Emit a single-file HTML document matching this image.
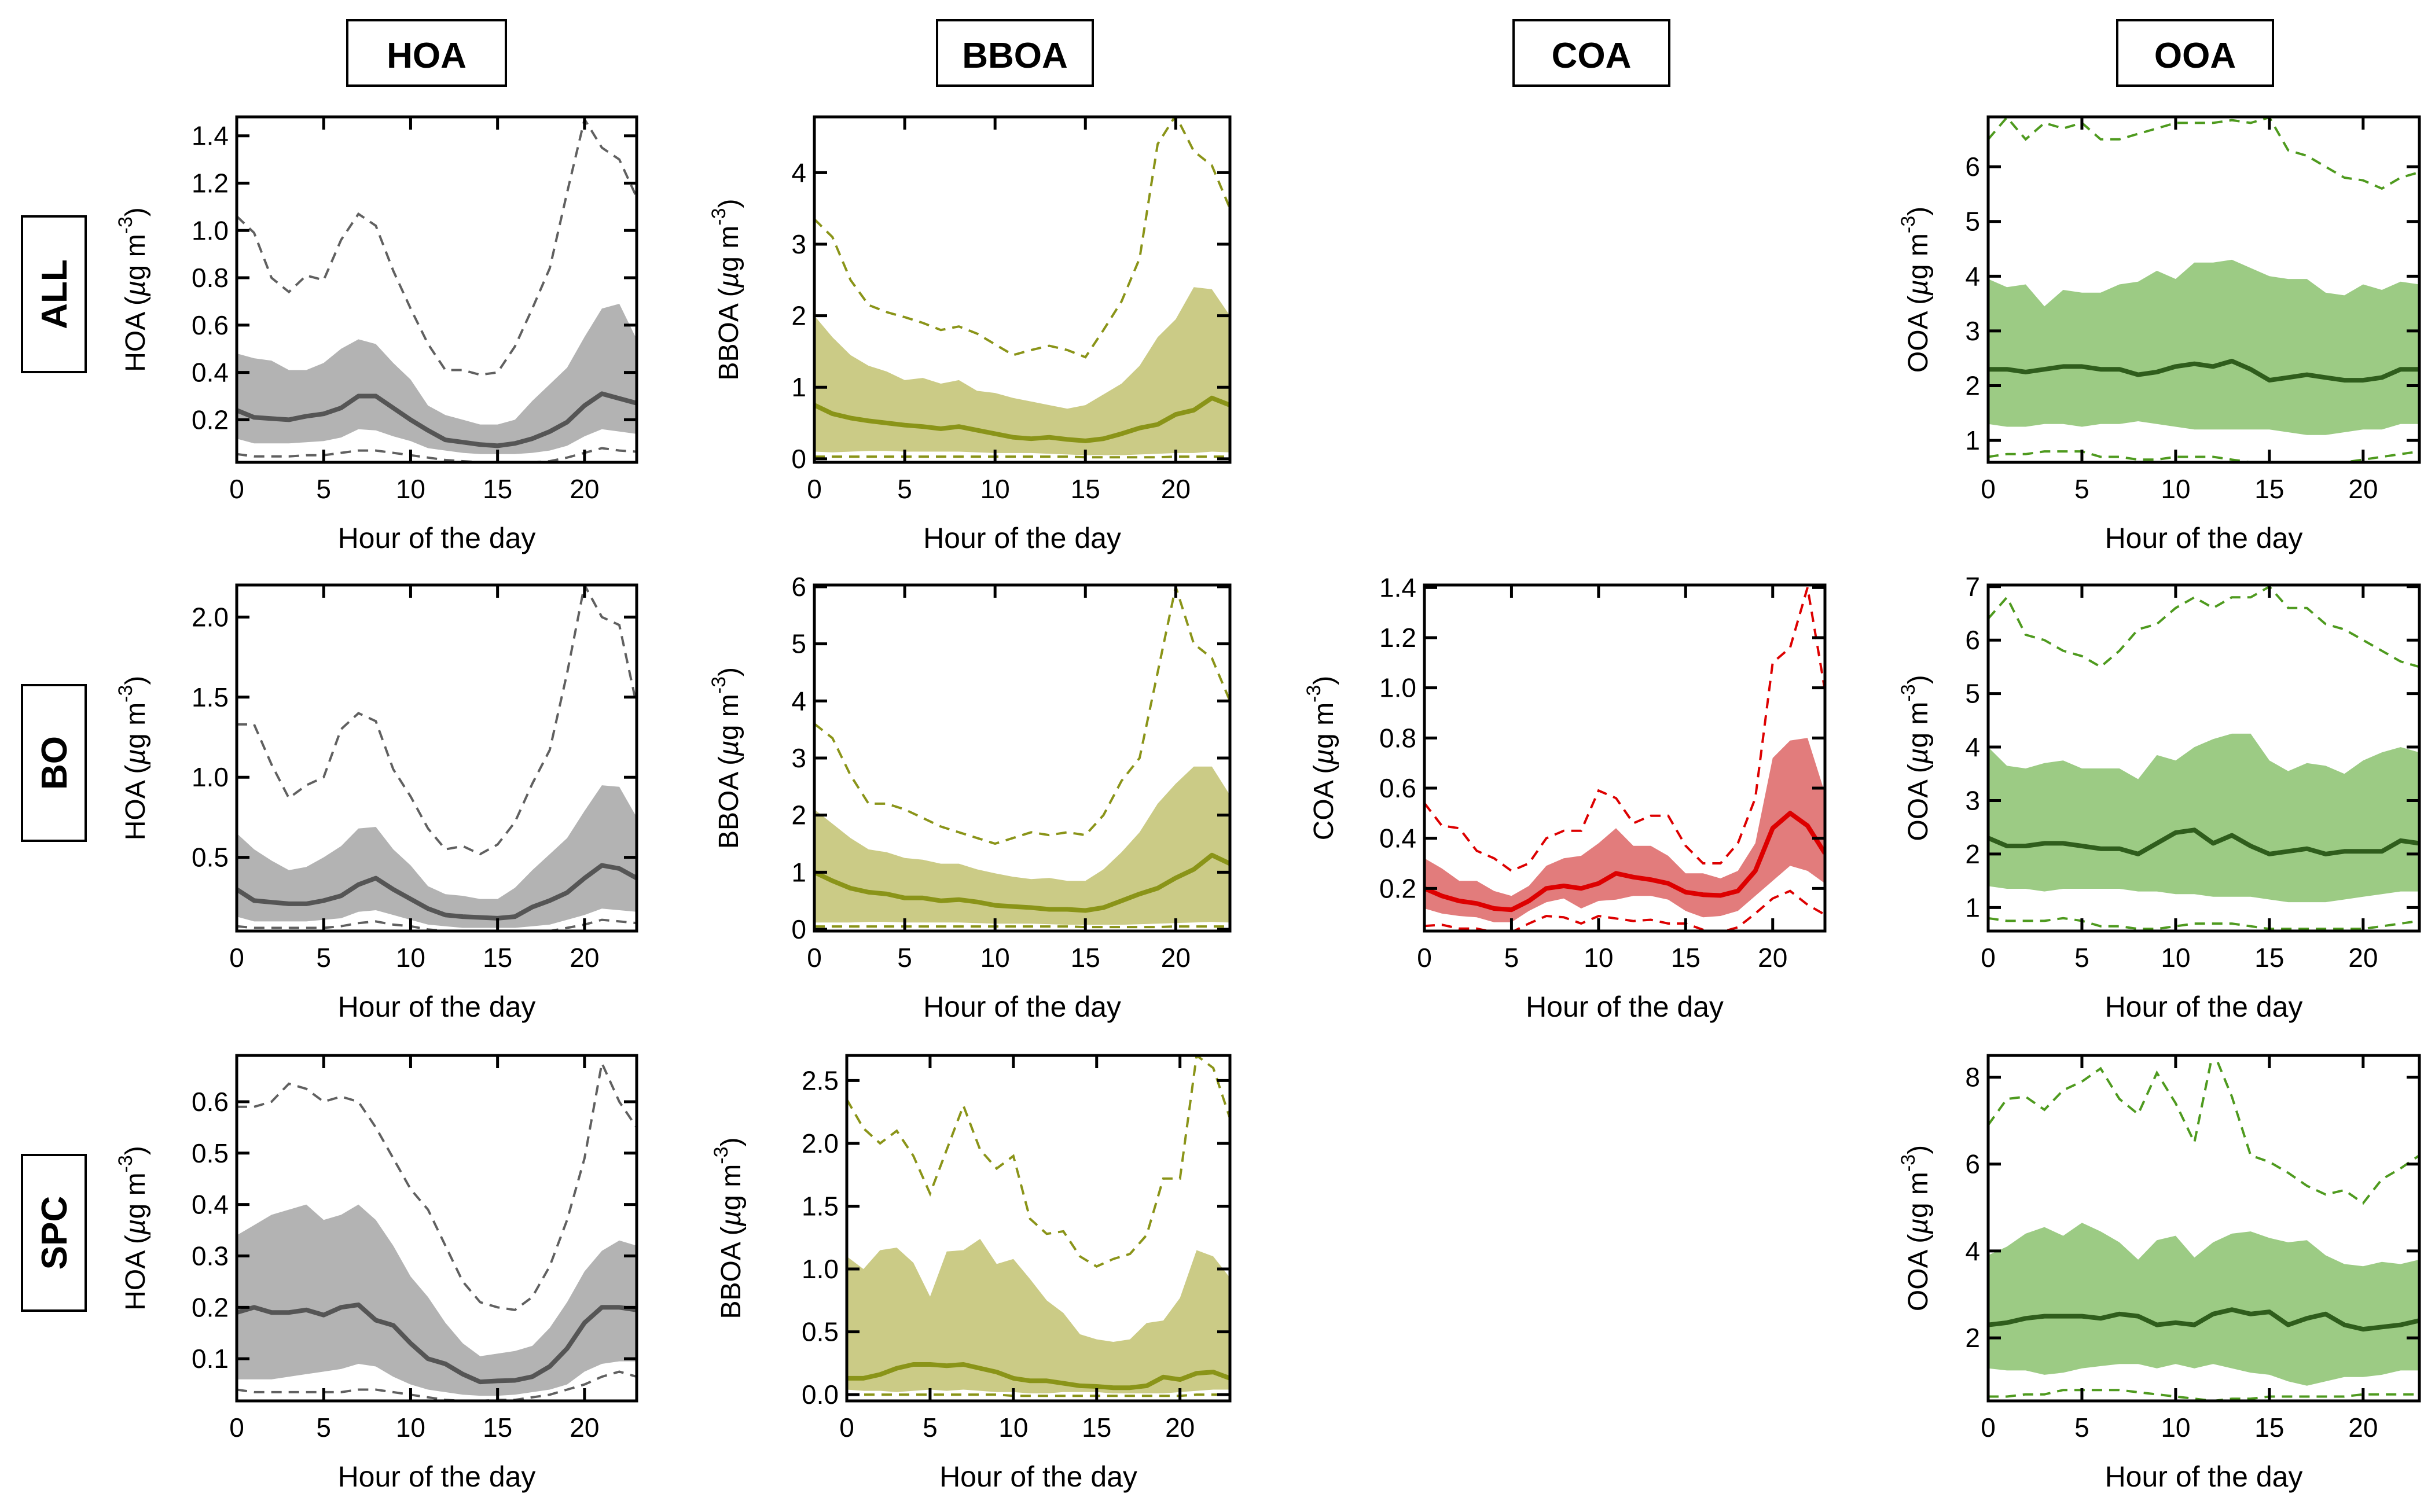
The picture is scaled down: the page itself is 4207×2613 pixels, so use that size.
<!DOCTYPE html>
<html><head><meta charset="utf-8"><style>
html,body{margin:0;padding:0;background:#fff;}
svg{display:block;font-family:"Liberation Sans",sans-serif;}
</style></head><body>
<svg id="fig" width="4207" height="2613" viewBox="0 0 4207 2613" xmlns="http://www.w3.org/2000/svg"></svg>
<script>
const hours = [0,1,2,3,4,5,6,7,8,9,10,11,12,13,14,15,16,17,18,19,20,21,22,23];
const xTicks = [0,5,10,15,20];

const hoaAllMean=[0.24,0.21,0.205,0.20,0.215,0.225,0.25,0.30,0.30,0.25,0.20,0.155,0.115,0.105,0.095,0.09,0.10,0.12,0.15,0.19,0.26,0.31,0.29,0.27];
const hoaAllHi=[0.48,0.46,0.45,0.41,0.41,0.44,0.50,0.54,0.52,0.44,0.37,0.26,0.22,0.20,0.18,0.18,0.20,0.28,0.35,0.42,0.55,0.67,0.69,0.54];
const hoaAllLo=[0.12,0.10,0.10,0.10,0.105,0.11,0.125,0.16,0.155,0.13,0.11,0.08,0.07,0.06,0.055,0.055,0.055,0.06,0.07,0.09,0.13,0.16,0.15,0.14];
const hoaAllDHi=[1.06,0.99,0.80,0.74,0.81,0.79,0.96,1.07,1.02,0.83,0.67,0.52,0.41,0.41,0.39,0.40,0.51,0.67,0.84,1.16,1.47,1.35,1.30,1.14];
const hoaAllDLo=[0.055,0.045,0.045,0.045,0.05,0.05,0.06,0.07,0.07,0.06,0.05,0.04,0.03,0.025,0.02,0.02,0.02,0.02,0.025,0.04,0.06,0.08,0.07,0.065];

const bbAllMean=[0.75,0.63,0.57,0.53,0.50,0.47,0.45,0.42,0.45,0.40,0.35,0.30,0.28,0.30,0.27,0.25,0.28,0.35,0.43,0.48,0.62,0.68,0.85,0.75];
const bbAllHi=[2.0,1.7,1.45,1.3,1.22,1.1,1.13,1.05,1.1,0.95,0.92,0.85,0.8,0.75,0.7,0.75,0.9,1.05,1.3,1.7,1.95,2.4,2.37,2.0];
const bbAllLo=[0.1,0.09,0.1,0.11,0.11,0.1,0.1,0.1,0.1,0.09,0.08,0.08,0.08,0.07,0.06,0.05,0.05,0.05,0.06,0.07,0.08,0.08,0.1,0.09];
const bbAllDHi=[3.35,3.1,2.5,2.15,2.05,1.98,1.9,1.8,1.85,1.75,1.6,1.45,1.52,1.58,1.52,1.42,1.8,2.2,2.8,4.4,4.8,4.3,4.1,3.5];
const bbAllDLo=[0.03,0.03,0.03,0.03,0.03,0.03,0.03,0.03,0.03,0.03,0.03,0.03,0.03,0.03,0.03,0.02,0.02,0.02,0.02,0.02,0.03,0.03,0.03,0.03];

const ooAllMean=[2.3,2.3,2.25,2.3,2.35,2.35,2.3,2.3,2.2,2.25,2.35,2.4,2.35,2.45,2.3,2.1,2.15,2.2,2.15,2.1,2.1,2.15,2.3,2.3];
const ooAllHi=[3.95,3.8,3.85,3.45,3.75,3.7,3.7,3.85,3.9,4.1,3.95,4.25,4.25,4.3,4.15,4.0,3.95,3.95,3.7,3.65,3.85,3.75,3.9,3.85];
const ooAllLo=[1.3,1.25,1.25,1.3,1.3,1.25,1.3,1.3,1.35,1.3,1.25,1.2,1.2,1.2,1.2,1.2,1.15,1.1,1.1,1.15,1.2,1.2,1.3,1.3];
const ooAllDHi=[6.5,6.9,6.5,6.8,6.7,6.8,6.5,6.5,6.6,6.7,6.8,6.8,6.8,6.85,6.8,6.9,6.3,6.2,6.0,5.8,5.75,5.6,5.8,5.9];
const ooAllDLo=[0.7,0.75,0.75,0.8,0.8,0.8,0.7,0.7,0.65,0.65,0.7,0.7,0.7,0.65,0.6,0.6,0.6,0.6,0.6,0.6,0.65,0.7,0.75,0.8];

const hoaBoMean=[0.30,0.23,0.22,0.21,0.21,0.23,0.26,0.33,0.37,0.30,0.24,0.18,0.14,0.13,0.125,0.12,0.13,0.19,0.23,0.28,0.37,0.45,0.43,0.37];
const hoaBoHi=[0.65,0.55,0.48,0.42,0.44,0.50,0.57,0.68,0.69,0.55,0.45,0.32,0.27,0.26,0.24,0.24,0.31,0.42,0.52,0.62,0.79,0.95,0.94,0.75];
const hoaBoLo=[0.13,0.10,0.10,0.10,0.10,0.11,0.12,0.16,0.17,0.14,0.11,0.08,0.07,0.06,0.06,0.06,0.06,0.07,0.08,0.11,0.14,0.18,0.17,0.16];
const hoaBoDHi=[1.33,1.33,1.08,0.87,0.95,1.00,1.30,1.40,1.35,1.05,0.88,0.68,0.55,0.57,0.52,0.58,0.72,0.96,1.17,1.65,2.2,2.0,1.95,1.45];
const hoaBoDLo=[0.07,0.06,0.06,0.06,0.06,0.06,0.07,0.09,0.10,0.08,0.07,0.05,0.04,0.04,0.04,0.035,0.04,0.04,0.04,0.06,0.08,0.11,0.10,0.09];

const bbBoMean=[1.0,0.85,0.72,0.65,0.62,0.55,0.55,0.50,0.52,0.48,0.42,0.40,0.38,0.35,0.35,0.33,0.38,0.50,0.62,0.72,0.90,1.05,1.3,1.15];
const bbBoHi=[2.1,1.85,1.6,1.4,1.35,1.25,1.22,1.15,1.15,1.05,0.98,0.92,0.88,0.90,0.85,0.85,1.05,1.35,1.7,2.2,2.55,2.85,2.85,2.35];
const bbBoLo=[0.12,0.12,0.12,0.13,0.13,0.12,0.12,0.12,0.12,0.11,0.1,0.1,0.1,0.09,0.08,0.08,0.08,0.08,0.09,0.1,0.11,0.12,0.13,0.12];
const bbBoDHi=[3.6,3.35,2.7,2.2,2.2,2.1,1.95,1.8,1.7,1.6,1.5,1.6,1.7,1.65,1.7,1.65,2.0,2.6,3.0,4.5,6.0,5.0,4.75,4.0];
const bbBoDLo=[0.05,0.05,0.05,0.05,0.05,0.05,0.05,0.05,0.05,0.05,0.05,0.05,0.05,0.05,0.05,0.04,0.04,0.04,0.04,0.04,0.05,0.05,0.05,0.05];

const coaBoMean=[0.20,0.17,0.15,0.14,0.12,0.115,0.15,0.20,0.21,0.20,0.22,0.26,0.245,0.235,0.22,0.185,0.175,0.172,0.19,0.27,0.44,0.50,0.45,0.34];
const coaBoHi=[0.32,0.28,0.23,0.23,0.19,0.17,0.21,0.29,0.32,0.33,0.38,0.44,0.37,0.37,0.33,0.26,0.26,0.24,0.27,0.38,0.72,0.79,0.80,0.58];
const coaBoLo=[0.12,0.10,0.09,0.085,0.065,0.065,0.11,0.145,0.16,0.12,0.15,0.155,0.17,0.17,0.155,0.11,0.085,0.09,0.11,0.17,0.23,0.29,0.27,0.22];
const coaBoDHi=[0.54,0.45,0.44,0.35,0.32,0.27,0.30,0.40,0.43,0.43,0.59,0.56,0.46,0.49,0.49,0.37,0.30,0.30,0.38,0.56,1.1,1.16,1.40,0.99];
const coaBoDLo=[0.05,0.055,0.04,0.04,0.025,0.025,0.06,0.09,0.085,0.06,0.09,0.08,0.07,0.075,0.06,0.06,0.035,0.025,0.045,0.10,0.16,0.19,0.135,0.095];

const ooBoMean=[2.3,2.15,2.15,2.2,2.2,2.15,2.1,2.1,2.0,2.2,2.4,2.45,2.2,2.35,2.15,2.0,2.05,2.1,2.0,2.05,2.05,2.05,2.25,2.2];
const ooBoHi=[4.0,3.65,3.6,3.7,3.75,3.6,3.6,3.6,3.4,3.85,3.75,4.0,4.15,4.25,4.25,3.75,3.55,3.7,3.65,3.5,3.75,3.9,4.0,3.9];
const ooBoLo=[1.4,1.35,1.35,1.3,1.35,1.35,1.35,1.35,1.3,1.3,1.25,1.25,1.2,1.2,1.2,1.15,1.1,1.1,1.1,1.15,1.2,1.25,1.3,1.3];
const ooBoDHi=[6.4,6.8,6.1,6.0,5.8,5.7,5.5,5.8,6.2,6.3,6.6,6.8,6.6,6.8,6.8,7.0,6.6,6.6,6.3,6.2,6.0,5.8,5.6,5.5];
const ooBoDLo=[0.8,0.75,0.75,0.75,0.8,0.75,0.65,0.65,0.6,0.6,0.65,0.7,0.7,0.7,0.65,0.6,0.6,0.6,0.6,0.6,0.6,0.65,0.7,0.75];

const hoaSpMean=[0.19,0.20,0.19,0.19,0.195,0.185,0.20,0.205,0.175,0.165,0.13,0.10,0.09,0.07,0.055,0.057,0.058,0.065,0.085,0.12,0.17,0.20,0.20,0.195];
const hoaSpHi=[0.34,0.36,0.38,0.39,0.40,0.37,0.38,0.40,0.37,0.32,0.26,0.22,0.17,0.13,0.105,0.11,0.115,0.125,0.16,0.21,0.27,0.31,0.33,0.32];
const hoaSpLo=[0.06,0.06,0.06,0.065,0.07,0.075,0.08,0.09,0.085,0.065,0.05,0.04,0.035,0.03,0.028,0.028,0.03,0.035,0.04,0.05,0.075,0.09,0.095,0.095];
const hoaSpDHi=[0.59,0.59,0.60,0.635,0.625,0.60,0.61,0.60,0.55,0.49,0.43,0.39,0.32,0.25,0.21,0.20,0.195,0.22,0.28,0.37,0.49,0.675,0.60,0.55];
const hoaSpDLo=[0.04,0.035,0.035,0.035,0.035,0.035,0.035,0.04,0.04,0.035,0.03,0.025,0.02,0.018,0.018,0.02,0.02,0.025,0.03,0.04,0.05,0.065,0.075,0.065];

const bbSpMean=[0.13,0.13,0.16,0.21,0.24,0.24,0.23,0.24,0.21,0.18,0.13,0.11,0.11,0.09,0.07,0.065,0.055,0.055,0.07,0.14,0.12,0.17,0.18,0.13];
const bbSpHi=[1.1,1.0,1.15,1.17,1.05,0.78,1.14,1.15,1.24,1.04,1.08,0.92,0.75,0.65,0.48,0.44,0.42,0.44,0.57,0.59,0.77,1.15,1.10,0.93];
const bbSpLo=[0.04,0.03,0.03,0.02,0.03,0.04,0.03,0.04,0.03,0.02,0.02,0.01,0.01,0.02,0.02,0.02,0.01,0.01,0.01,0.01,0.02,0.03,0.04,0.04];
const bbSpDHi=[2.35,2.12,2.0,2.1,1.9,1.6,1.95,2.3,1.95,1.8,1.9,1.4,1.28,1.3,1.1,1.02,1.08,1.12,1.27,1.72,1.72,2.7,2.6,2.2];
const bbSpDLo=[0,0,0,0,0,0,0,0,0,0,-0.01,-0.01,-0.01,-0.01,-0.01,-0.01,-0.01,-0.01,-0.01,-0.01,-0.01,0,0,0];

const ooSpMean=[2.3,2.35,2.45,2.5,2.5,2.5,2.45,2.55,2.5,2.3,2.35,2.3,2.55,2.65,2.55,2.6,2.3,2.45,2.55,2.3,2.2,2.25,2.3,2.4];
const ooSpHi=[3.9,4.1,4.4,4.55,4.35,4.65,4.45,4.2,3.8,4.25,4.35,3.85,4.2,4.4,4.45,4.3,4.2,4.25,3.9,3.7,3.65,3.75,3.7,3.8];
const ooSpLo=[1.3,1.25,1.25,1.15,1.2,1.3,1.35,1.4,1.4,1.3,1.4,1.3,1.4,1.3,1.2,1.15,1.0,0.9,1.0,1.1,1.1,1.15,1.25,1.25];
const ooSpDHi=[6.9,7.5,7.55,7.25,7.7,7.9,8.2,7.5,7.15,8.1,7.4,6.5,8.6,7.55,6.2,6.05,5.8,5.5,5.3,5.4,5.1,5.65,5.9,6.2];
const ooSpDLo=[0.65,0.65,0.7,0.7,0.8,0.8,0.8,0.8,0.75,0.7,0.65,0.6,0.55,0.6,0.6,0.65,0.65,0.65,0.65,0.65,0.7,0.7,0.7,0.7];

const hoaAllTicks=[0.2,0.4,0.6,0.8,1.0,1.2,1.4];
const bbAllTicks=[0,1,2,3,4];
const ooAllTicks=[1,2,3,4,5,6];
const hoaBoTicks=[0.5,1.0,1.5,2.0];
const bbBoTicks=[0,1,2,3,4,5,6];
const coaBoTicks=[0.2,0.4,0.6,0.8,1.0,1.2,1.4];
const ooBoTicks=[1,2,3,4,5,6,7];
const hoaSpTicks=[0.1,0.2,0.3,0.4,0.5,0.6];
const bbSpTicks=[0.0,0.5,1.0,1.5,2.0,2.5];
const ooSpTicks=[2,4,6,8];

const NS="http://www.w3.org/2000/svg";
const svg=document.getElementById('fig');
function mk(tag,attrs,parent){const e=document.createElementNS(NS,tag);for(const k in attrs)e.setAttribute(k,attrs[k]);(parent||svg).appendChild(e);return e;}

const COL={
 hoa:{band:'#b3b3b3',line:'#555555',dash:'#606060'},
 bb:{band:'#cbcb86',line:'#8a9418',dash:'#8a9418'},
 coa:{band:'#e27c7c',line:'#dd0000',dash:'#dd0000'},
 oo:{band:'#9ccb84',line:'#2f5d1c',dash:'#4e9a1e'}
};
const rows=[{t:202,b:799},{t:1011,b:1609},{t:1824,b:2421}];
const panels=[
 {id:'hoa-all',sp:'hoa',label:'HOA',r:0,L:409,R:1100,d:[0.02,1.48],ticks:hoaAllTicks,dec:1,m:hoaAllMean,hi:hoaAllHi,lo:hoaAllLo,dh:hoaAllDHi,dl:hoaAllDLo,yl:234},
 {id:'bboa-all',sp:'bb',label:'BBOA',r:0,L:1407,R:2125,d:[-0.05,4.78],ticks:bbAllTicks,dec:0,m:bbAllMean,hi:bbAllHi,lo:bbAllLo,dh:bbAllDHi,dl:bbAllDLo,yl:1259},
 {id:'ooa-all',sp:'oo',label:'OOA',r:0,L:3435,R:4180,d:[0.6,6.91],ticks:ooAllTicks,dec:0,m:ooAllMean,hi:ooAllHi,lo:ooAllLo,dh:ooAllDHi,dl:ooAllDLo,yl:3314},
 {id:'hoa-bo',sp:'hoa',label:'HOA',r:1,L:409,R:1100,d:[0.04,2.2],ticks:hoaBoTicks,dec:1,m:hoaBoMean,hi:hoaBoHi,lo:hoaBoLo,dh:hoaBoDHi,dl:hoaBoDLo,yl:234},
 {id:'bboa-bo',sp:'bb',label:'BBOA',r:1,L:1407,R:2125,d:[-0.03,6.03],ticks:bbBoTicks,dec:0,m:bbBoMean,hi:bbBoHi,lo:bbBoLo,dh:bbBoDHi,dl:bbBoDLo,yl:1259},
 {id:'coa-bo',sp:'coa',label:'COA',r:1,L:2461,R:3153,d:[0.03,1.41],ticks:coaBoTicks,dec:1,m:coaBoMean,hi:coaBoHi,lo:coaBoLo,dh:coaBoDHi,dl:coaBoDLo,yl:2287},
 {id:'ooa-bo',sp:'oo',label:'OOA',r:1,L:3435,R:4180,d:[0.56,7.03],ticks:ooBoTicks,dec:0,m:ooBoMean,hi:ooBoHi,lo:ooBoLo,dh:ooBoDHi,dl:ooBoDLo,yl:3314},
 {id:'hoa-spc',sp:'hoa',label:'HOA',r:2,L:409,R:1100,d:[0.018,0.69],ticks:hoaSpTicks,dec:1,m:hoaSpMean,hi:hoaSpHi,lo:hoaSpLo,dh:hoaSpDHi,dl:hoaSpDLo,yl:234},
 {id:'bboa-spc',sp:'bb',label:'BBOA',r:2,L:1463,R:2125,d:[-0.05,2.70],ticks:bbSpTicks,dec:1,m:bbSpMean,hi:bbSpHi,lo:bbSpLo,dh:bbSpDHi,dl:bbSpDLo,yl:1263},
 {id:'ooa-spc',sp:'oo',label:'OOA',r:2,L:3435,R:4180,d:[0.55,8.5],ticks:ooSpTicks,dec:0,m:ooSpMean,hi:ooSpHi,lo:ooSpLo,dh:ooSpDHi,dl:ooSpDLo,yl:3314}
];

panels.forEach(p=>{
 const T=rows[p.r].t,B=rows[p.r].b,c=COL[p.sp];
 const g=mk('g',{});
 
 
 const xs=h=>p.L+(h/23)*(p.R-p.L);
 const ys=v=>B-(v-p.d[0])/(p.d[1]-p.d[0])*(B-T);
 const cp=mk('clipPath',{id:'cp-'+p.id},g);
 mk('rect',{x:p.L,y:T,width:p.R-p.L,height:B-T},cp);
 const pg=mk('g',{'clip-path':'url(#cp-'+p.id+')'},g);
 let d='';
 hours.forEach((h,i)=>{d+=(i?'L':'M')+xs(h).toFixed(1)+','+ys(p.hi[i]).toFixed(1);});
 for(let i=hours.length-1;i>=0;i--)d+='L'+xs(hours[i]).toFixed(1)+','+ys(p.lo[i]).toFixed(1);
 const band=mk('path',{d:d+'Z',fill:c.band,stroke:'none'},pg);
 
 
 const line=(arr,attrs,name)=>{let s='';hours.forEach((h,i)=>{s+=(i?'L':'M')+xs(h).toFixed(1)+','+ys(arr[i]).toFixed(1);});const e=mk('path',Object.assign({d:s,fill:'none'},attrs),pg);};
 line(p.dh,{stroke:c.dash,'stroke-width':4,'stroke-dasharray':'18,12'},p.id+'-upper-dashed');
 line(p.dl,{stroke:c.dash,'stroke-width':4,'stroke-dasharray':'18,12'},p.id+'-lower-dashed');
 line(p.m,{stroke:c.line,'stroke-width':8,'stroke-linejoin':'round'},p.id+'-mean-line');
 // frame
 const fr=mk('rect',{x:p.L,y:T,width:p.R-p.L,height:B-T,fill:'none',stroke:'#000','stroke-width':5},g);
 
 
 xTicks.forEach(t=>{
  const x=xs(t);
  mk('line',{x1:x,y1:B,x2:x,y2:B-22,stroke:'#000','stroke-width':5},g);
  mk('line',{x1:x,y1:T,x2:x,y2:T+22,stroke:'#000','stroke-width':5},g);
  const tx=mk('text',{x:x,y:B+62,'font-size':46,'text-anchor':'middle',fill:'#000'},g);
  tx.textContent=t;
  
  
 });
 p.ticks.forEach(t=>{
  const y=ys(t);
  mk('line',{x1:p.L,y1:y,x2:p.L+22,y2:y,stroke:'#000','stroke-width':5},g);
  mk('line',{x1:p.R,y1:y,x2:p.R-22,y2:y,stroke:'#000','stroke-width':5},g);
  const tx=mk('text',{x:p.L-14,y:y+16,'font-size':46,'text-anchor':'end',fill:'#000'},g);
  tx.textContent=t.toFixed(p.dec);
  
  
 });
 const xl=mk('text',{x:(p.L+p.R)/2,y:B+148,'font-size':50,'text-anchor':'middle',fill:'#000'},g);
 xl.textContent='Hour of the day';
 
 
 const cy=(T+B)/2;
 const yl=mk('text',{x:0,y:0,'font-size':48,'text-anchor':'middle',fill:'#000',transform:'translate('+(p.yl+16)+','+cy+') rotate(-90)'},g);
 yl.innerHTML=p.label+' (<tspan font-style="italic">µ</tspan>g m<tspan dy="-22" font-size="34">-3</tspan><tspan dy="22">)</tspan>';
 
 
});

const colHeads=[['HOA',600,874],['BBOA',1619,1888],['COA',2615,2884],['OOA',3658,3927]];
colHeads.forEach(c=>{
 const g=mk('g',{});
 
 
 mk('rect',{x:c[1],y:35,width:c[2]-c[1],height:113,fill:'#fff',stroke:'#000','stroke-width':4},g);
 const t=mk('text',{x:(c[1]+c[2])/2,y:117,'font-size':62,'font-weight':'bold','text-anchor':'middle',fill:'#000'},g);
 t.textContent=c[0];
});
const rowHeads=[['ALL',374,643],['BO',1184,1453],['SPC',1996,2265]];
rowHeads.forEach(r=>{
 const g=mk('g',{});
 
 
 mk('rect',{x:38,y:r[1],width:110,height:r[2]-r[1],fill:'#fff',stroke:'#000','stroke-width':4},g);
 const cy=(r[1]+r[2])/2;
 const t=mk('text',{x:0,y:0,'font-size':62,'font-weight':'bold','text-anchor':'middle',fill:'#000',transform:'translate(115,'+cy+') rotate(-90)'},g);
 t.textContent=r[0];
});
</script>
</body></html>
